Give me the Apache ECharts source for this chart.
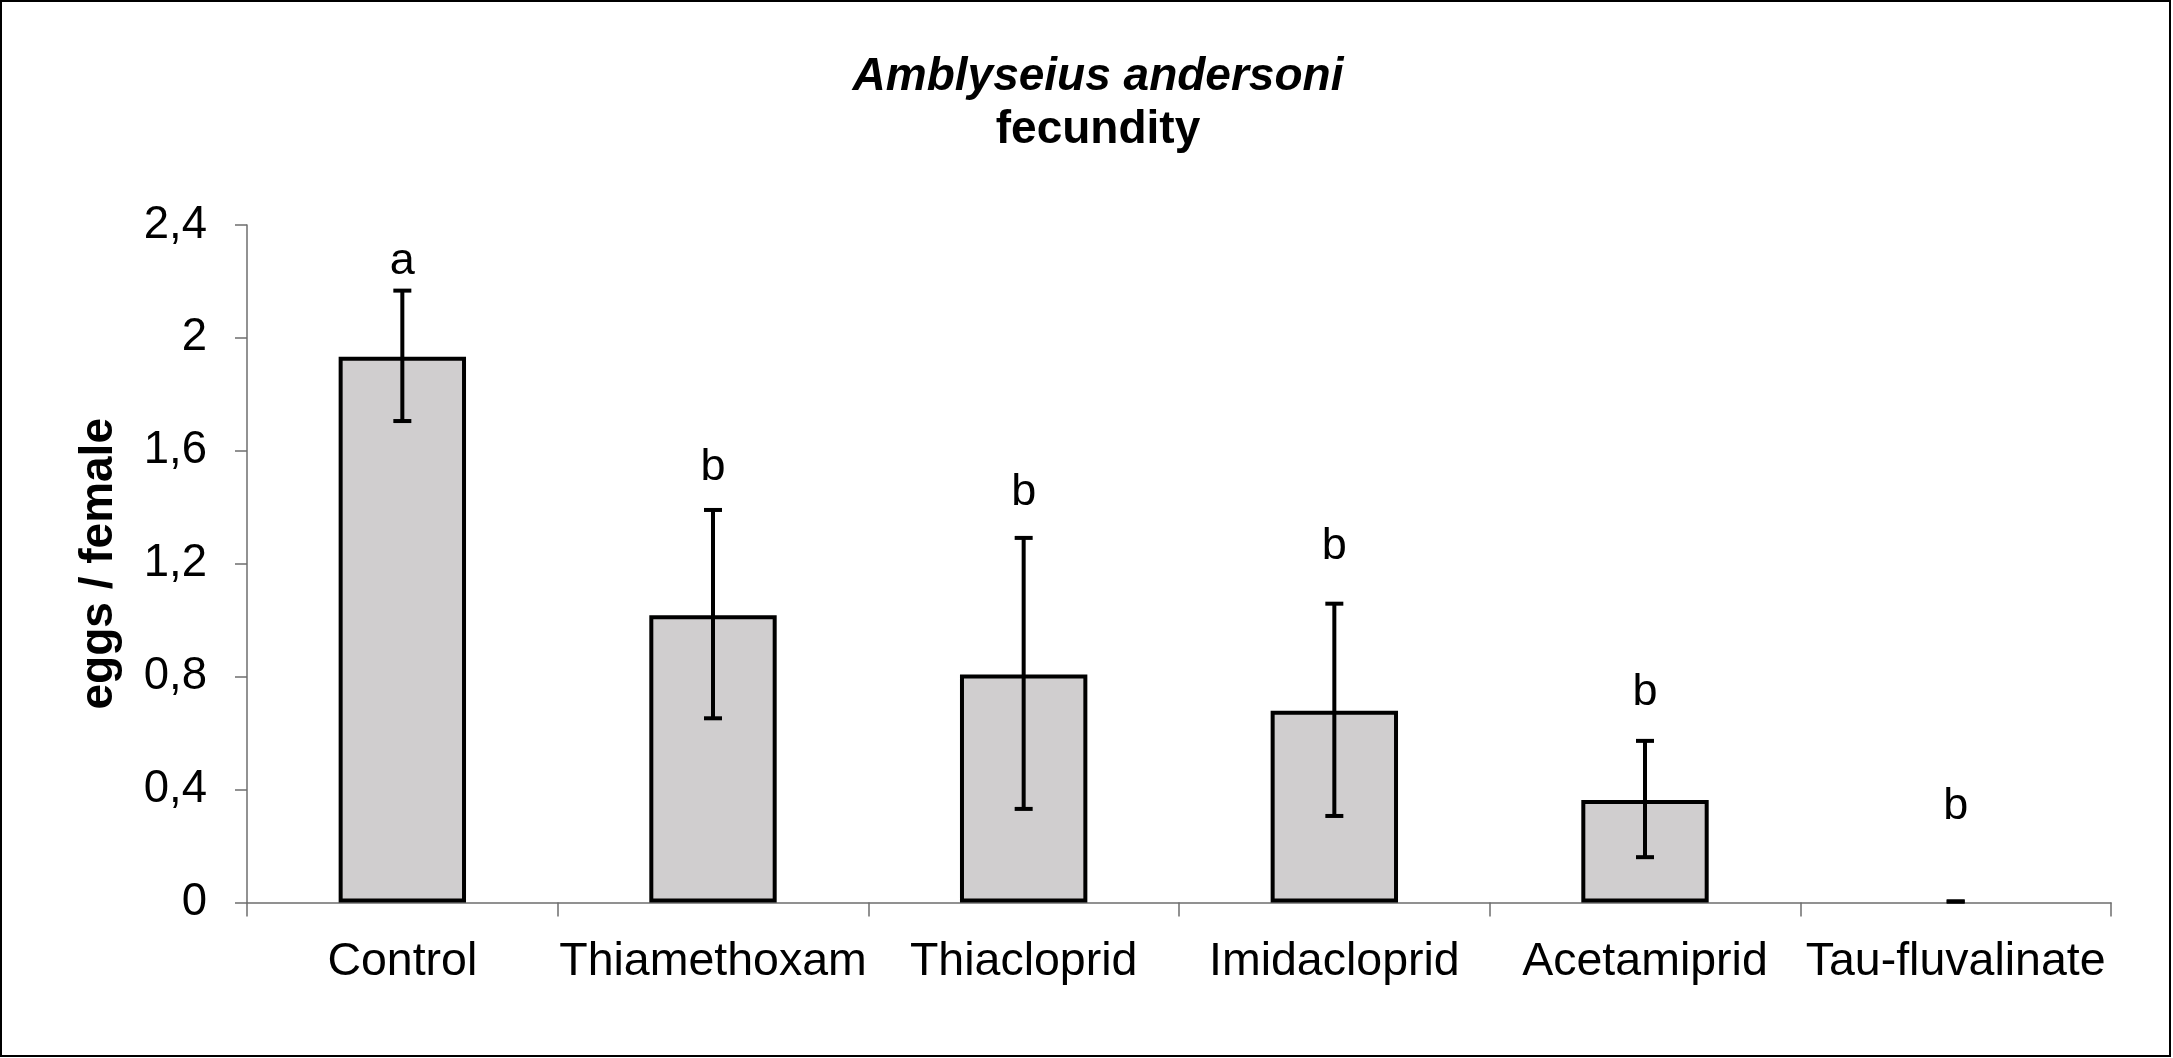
<!DOCTYPE html>
<html>
<head>
<meta charset="utf-8">
<script src="https://cdn.jsdelivr.net/npm/echarts@6/dist/echarts.min.js"></script>
<style>
html,body{margin:0;padding:0;background:#fff;}
#chart{width:2173px;height:1058px;}
</style>
</head>
<body>
<div id="chart"></div>
<script>
const categories = ['Control', 'Thiamethoxam', 'Thiacloprid', 'Imidacloprid', 'Acetamiprid', 'Tau-fluvalinate'];
const means = [1.933, 1.018, 0.808, 0.679, 0.363, 0.0];
const errors = [0.231, 0.369, 0.480, 0.376, 0.206, 0.0];
const letters = ['a', 'b', 'b', 'b', 'b', 'b'];
const letterPos = [2.272, 1.540, 1.451, 1.262, 0.745, 0.338];
const yTickLabels = ['0', '0,4', '0,8', '1,2', '1,6', '2', '2,4'];

const FONT = '"Liberation Sans", Arial, Helvetica, sans-serif';
const chart = echarts.init(document.getElementById('chart'));

const barData = means.map(m => m === 0 ? { value: m, itemStyle: { borderWidth: 0, color: 'transparent' } } : m);
const errData = means.map((m, i) => [i, m - errors[i], m + errors[i]]);
const letterData = letters.map((l, i) => [i, letterPos[i], l]);

chart.setOption({
  backgroundColor: '#ffffff',
  animation: false,
  textStyle: { fontFamily: FONT },
  title: [
    {
      text: 'Amblyseius andersoni',
      left: 1093, top: 72, textAlign: 'center', textVerticalAlign: 'middle',
      textStyle: { fontFamily: FONT, fontSize: 46, fontWeight: 'bold', fontStyle: 'italic', color: '#000' }
    },
    {
      text: 'fecundity',
      left: 1093, top: 125, textAlign: 'center', textVerticalAlign: 'middle',
      textStyle: { fontFamily: FONT, fontSize: 46, fontWeight: 'bold', color: '#000' }
    }
  ],
  graphic: [{
    type: 'rect', silent: true,
    shape: { x: 1, y: 1, width: 2169, height: 1055 },
    style: { fill: 'none', stroke: '#000', lineWidth: 2 }
  }],
  grid: { left: 247, right: 62, top: 225, bottom: 155.5, containLabel: false },
  xAxis: {
    type: 'category',
    data: categories,
    axisLine: { show: true, lineStyle: { color: '#6e6e6e', width: 1.5 } },
    axisTick: { show: true, length: 14, lineStyle: { color: '#6e6e6e', width: 1.5 } },
    axisLabel: { color: '#000', fontSize: 46.5, fontFamily: FONT, margin: 36, interval: 0 },
    splitLine: { show: false }
  },
  yAxis: {
    type: 'value',
    min: 0, max: 2.4, interval: 0.4,
    name: 'eggs / female',
    nameLocation: 'middle',
    nameGap: 125,
    nameTextStyle: { fontFamily: FONT, fontSize: 46, fontWeight: 'bold', color: '#000' },
    axisLine: { show: true, lineStyle: { color: '#6e6e6e', width: 1.5 } },
    axisTick: { show: true, length: 12, lineStyle: { color: '#6e6e6e', width: 1.5 } },
    axisLabel: {
      color: '#000', fontSize: 45.5, fontFamily: FONT, margin: 40,
      formatter: v => yTickLabels[Math.round(v / 0.4)]
    },
    splitLine: { show: false }
  },
  series: [
    {
      type: 'bar',
      data: barData,
      barWidth: '41%',
      itemStyle: { color: '#d0cecf', borderColor: '#000', borderWidth: 4 },
      z: 2
    },
    {
      type: 'custom',
      data: errData,
      z: 3,
      renderItem: function (params, api) {
        const x = api.value(0);
        const lo = api.coord([x, api.value(1)]);
        const hi = api.coord([x, api.value(2)]);
        const half = 9;
        const st = { stroke: '#000', lineWidth: 4 };
        return {
          type: 'group',
          children: [
            { type: 'line', shape: { x1: lo[0], y1: lo[1], x2: hi[0], y2: hi[1] }, style: st },
            { type: 'line', shape: { x1: hi[0] - half, y1: hi[1] - 1, x2: hi[0] + half, y2: hi[1] - 1 }, style: st },
            { type: 'line', shape: { x1: lo[0] - half, y1: lo[1] - 1, x2: lo[0] + half, y2: lo[1] - 1 }, style: st }
          ]
        };
      }
    },
    {
      type: 'custom',
      data: letterData,
      z: 4,
      renderItem: function (params, api) {
        const p = api.coord([api.value(0), api.value(1)]);
        return {
          type: 'text',
          x: p[0], y: p[1],
          style: {
            text: letters[params.dataIndex],
            fontFamily: FONT, fontSize: 45, fill: '#000',
            align: 'center', verticalAlign: 'middle'
          }
        };
      }
    }
  ]
});
</script>
</body>
</html>
